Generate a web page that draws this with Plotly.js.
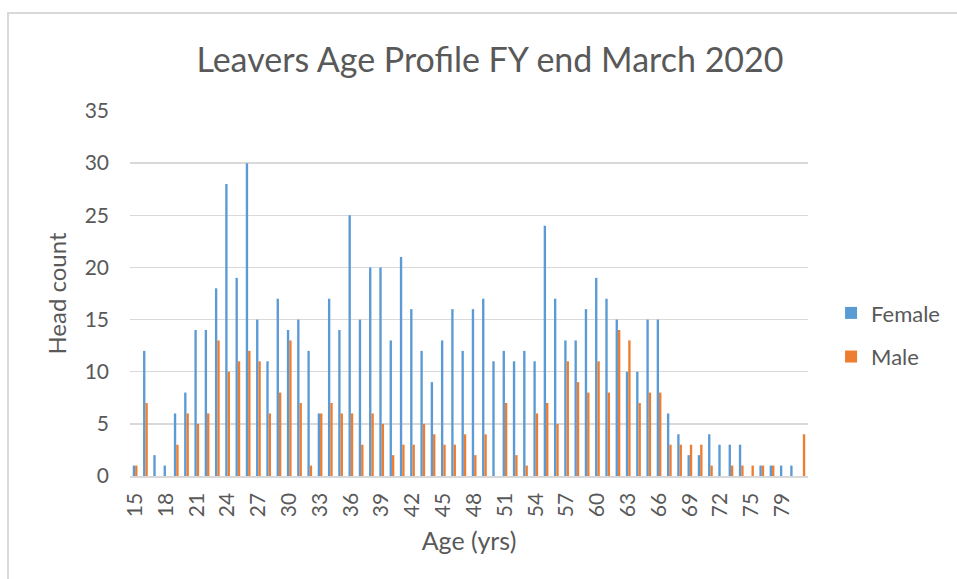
<!DOCTYPE html>
<html>
<head>
<meta charset="utf-8">
<script src="https://cdn.plot.ly/plotly-3.0.1.min.js"></script>
<style>
  html, body { margin: 0; padding: 0; background: #ffffff; }
  #wrap { position: relative; width: 957px; height: 579px; overflow: hidden; }
  #chart { position: absolute; left: 0; top: 0; width: 957px; height: 579px; }
  #frame { position: absolute; left: 7px; top: 12px; width: 980px; height: 600px;
           border-left: 2px solid #d9d9d9; border-top: 2px solid #d9d9d9; pointer-events: none; }
</style>
</head>
<body>
<div id="wrap">
  <div id="chart"></div>
  <div id="frame"></div>
</div>
<script>
const ages = [15,16,17,18,19,20,21,22,23,24,25,26,27,28,29,30,31,32,33,34,35,36,37,38,39,40,
  41,42,43,44,45,46,47,48,49,50,51,52,53,54,55,56,57,58,59,60,61,62,63,64,65,66,67,68,69,70,
  71,72,73,74,75,76,77,79,80,81];

const female = [1,12,2,1,6,8,14,14,18,28,19,30,15,11,17,14,15,12,6,17,14,25,15,20,20,13,
  21,16,12,9,13,16,12,16,17,11,12,11,12,11,24,17,13,13,16,19,17,15,10,10,15,15,6,4,2,2,
  4,3,3,3,0,1,1,1,1,0];

const male = [1,7,0,0,3,6,5,6,13,10,11,12,11,6,8,13,7,1,6,7,6,6,3,6,5,2,
  3,3,5,4,3,3,4,2,4,0,7,2,1,6,7,5,11,9,8,11,8,14,13,7,8,8,3,3,3,3,
  1,0,1,1,1,1,1,0,0,4];

const tickAges = [15,18,21,24,27,30,33,36,39,42,45,48,51,54,57,60,63,66,69,72,75,79];

const cats = ages.map(String);
const FONT = 'Lato, "Open Sans", sans-serif';
const GREY = '#595959';

const traces = [
  { type: 'bar', name: 'Female', x: cats, y: female, marker: { color: '#5B9BD5' }, legendgroup: 'f' },
  { type: 'bar', name: 'Male', x: cats, y: male, marker: { color: '#ED7D31' }, legendgroup: 'm' }
];

const layout = {
  width: 957, height: 579,
  margin: { l: 130, r: 147, t: 111, b: 103 },
  paper_bgcolor: 'rgba(0,0,0,0)', plot_bgcolor: 'rgba(0,0,0,0)',
  font: { family: FONT, color: GREY, size: 21 },
  title: { text: 'Leavers Age Profile FY end March 2020', font: { size: 34, color: GREY, family: FONT },
           x: 0.512, xref: 'container', xanchor: 'center', y: 0.896, yref: 'container', yanchor: 'middle' },
  barmode: 'group', bargap: 0.54, bargroupgap: 0,
  xaxis: {
    type: 'category', tickmode: 'array', tickvals: tickAges.map(String), ticktext: tickAges.map(String),
    tickangle: -90, ticks: '', showgrid: false, showline: true, linecolor: '#d9d9d9', linewidth: 1.5,
    tickfont: { size: 21, color: GREY }, ticklabelstandoff: 7,
    title: { text: 'Age (yrs)', font: { size: 25, color: GREY }, standoff: 16 },
    fixedrange: true
  },
  yaxis: {
    range: [0, 35], dtick: 5, tick0: 0, showgrid: true, gridcolor: '#d9d9d9', gridwidth: 1.5,
    zeroline: false, ticks: '', tickfont: { size: 21, color: GREY }, ticklabelstandoff: 20,
    title: { text: 'Head count', font: { size: 24, color: GREY }, standoff: 11 },
    fixedrange: true
  },
  legend: { x: 1.034, xanchor: 'left', y: 0.386, yanchor: 'middle', font: { size: 22, color: GREY },
            tracegroupgap: 12, bgcolor: 'rgba(0,0,0,0)' },
  showlegend: true
};

Plotly.newPlot('chart', traces, layout, { displayModeBar: false, staticPlot: true });
</script>
</body>
</html>
